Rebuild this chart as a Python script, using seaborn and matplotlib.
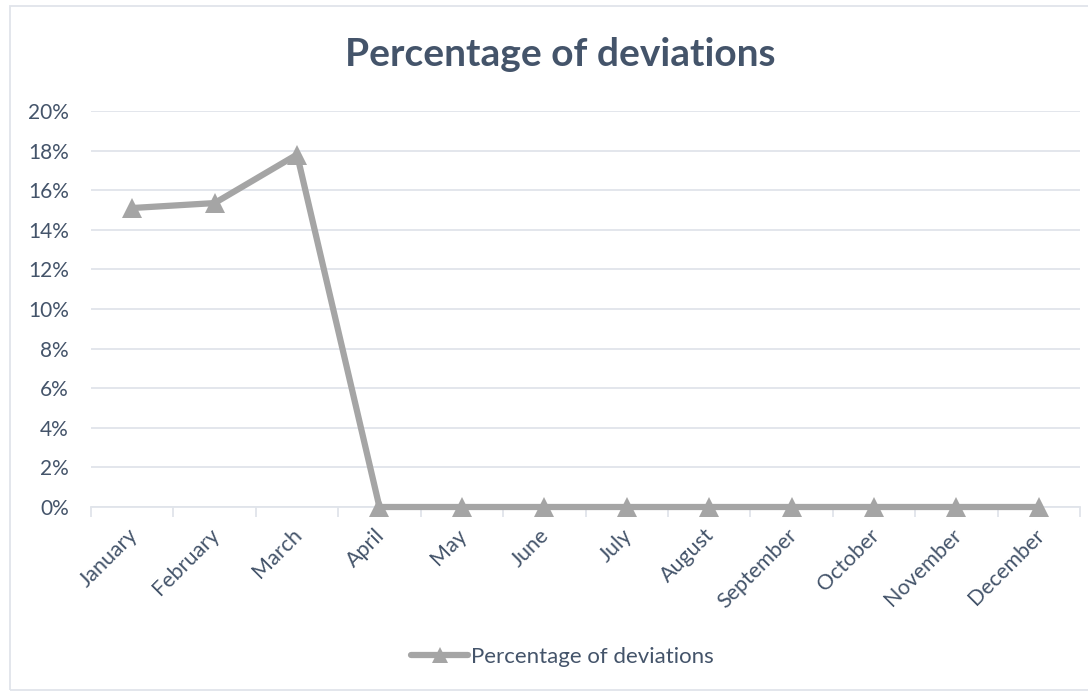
import matplotlib
matplotlib.use("Agg")
import matplotlib.pyplot as plt
import matplotlib.transforms as mtransforms
import seaborn as sns
import pandas as pd
import numpy as np
from matplotlib.ticker import FixedLocator, PercentFormatter
from matplotlib.patches import Rectangle
from matplotlib.lines import Line2D

months = ["January", "February", "March", "April", "May", "June", "July",
          "August", "September", "October", "November", "December"]
deviations = [15.1, 15.35, 17.8, 0, 0, 0, 0, 0, 0, 0, 0, 0]
y_ticks = [0, 2, 4, 6, 8, 10, 12, 14, 16, 18, 20]
series_name = "Percentage of deviations"

sns.set_theme(style="white")
plt.rcParams['font.family'] = ['Lato', 'DejaVu Sans']

TEXT = "#44546A"
LINE = "#A5A5A5"
GRID = "#E0E4EA"

df = pd.DataFrame({"month": months, "value": deviations})

fig = plt.figure(figsize=(10.88, 6.92), dpi=100)
ax = fig.add_axes([91/1088, 1-507/692, 989/1088, (507-111)/692])

sns.lineplot(data=df, x="month", y="value", ax=ax, sort=False, color=LINE,
             linewidth=4.5, marker="^", markersize=15, markeredgewidth=0,
             markerfacecolor=LINE, legend=False, zorder=5, clip_on=False)

ax.set_xlim(-0.5, len(months) - 0.5)
ax.set_ylim(0, 20)
ax.set_yticks(y_ticks)
ax.yaxis.set_major_formatter(PercentFormatter(decimals=0))
ax.grid(axis="y", color=GRID, linewidth=1.3)
ax.set_axisbelow(True)
for s in ["top", "right", "left"]:
    ax.spines[s].set_visible(False)
ax.spines["bottom"].set_color(GRID)
ax.spines["bottom"].set_linewidth(1.3)

ax.set_xticks(range(len(months)))
ax.set_xticklabels(months, rotation=45, ha="right", rotation_mode="anchor")
ax.xaxis.set_minor_locator(FixedLocator(np.arange(-0.5, len(months), 1.0)))
ax.tick_params(axis="x", which="major", length=0, pad=13, labelsize=15.5, labelcolor=TEXT)
ax.tick_params(axis="x", which="minor", length=7, width=1.3, color=GRID, direction="out", bottom=True)
ax.tick_params(axis="y", length=0, pad=16, labelsize=15, labelcolor=TEXT)
ax.set_xlabel("")
ax.set_ylabel("")
offset = mtransforms.ScaledTranslation(-5/100, 0, fig.dpi_scale_trans)
for lbl in ax.get_xticklabels():
    lbl.set_transform(lbl.get_transform() + offset)

fig.text(560/1088, 1-55/692, "Percentage of deviations", ha="center", va="center",
         fontsize=28, fontweight="bold", color=TEXT)

handle = Line2D([], [], color=LINE, linewidth=4.5, marker="^", markersize=11,
                markeredgewidth=0, markerfacecolor=LINE)
fig.legend([handle], [series_name], loc="center", bbox_to_anchor=(562/1088, 1-657/692),
           frameon=False, fontsize=16, labelcolor=TEXT, handlelength=2.6, handletextpad=0.1)

fig.patches.append(Rectangle((10/1088, 2/692), 1.2, 1-8/692, transform=fig.transFigure,
                             fill=False, edgecolor=GRID, linewidth=1.3))

fig.savefig("out.png", dpi=100, facecolor="white")
